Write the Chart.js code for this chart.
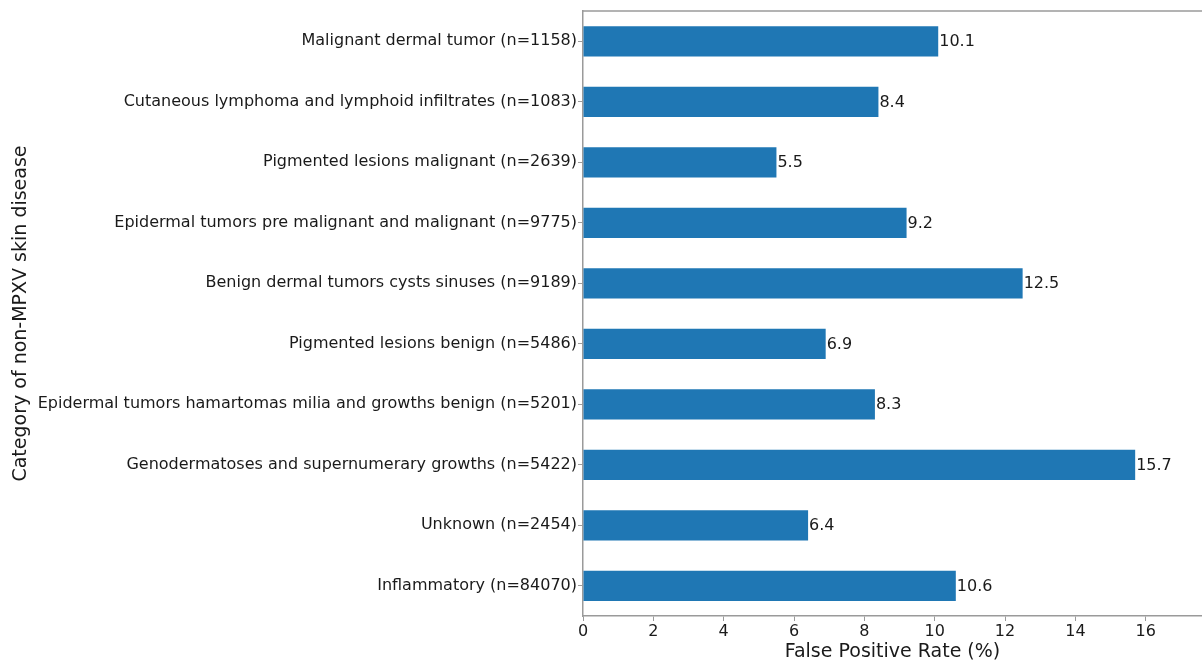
<!DOCTYPE html>
<html>
<head>
<meta charset="utf-8">
<script src="https://cdn.jsdelivr.net/npm/chart.js@4.4.1/dist/chart.umd.min.js"></script>
<style>
  html, body { margin: 0; padding: 0; background: #fff; }
  #wrap { width: 1202px; height: 664px; }
</style>
</head>
<body>
<div id="wrap"><canvas id="bar-chart"></canvas></div>
<script>
const categories = [
    'Malignant dermal tumor (n=1158)',
    'Cutaneous lymphoma and lymphoid infiltrates (n=1083)',
    'Pigmented lesions malignant (n=2639)',
    'Epidermal tumors pre malignant and malignant (n=9775)',
    'Benign dermal tumors cysts sinuses (n=9189)',
    'Pigmented lesions benign (n=5486)',
    'Epidermal tumors hamartomas milia and growths benign (n=5201)',
    'Genodermatoses and supernumerary growths (n=5422)',
    'Unknown (n=2454)',
    'Inflammatory (n=84070)'
]
const falsePositiveRate = [10.1, 8.4, 5.5, 9.2, 12.5, 6.9, 8.3, 15.7, 6.4, 10.6]
const xTicks = [0, 2, 4, 6, 8, 10, 12, 14, 16]

const axisGrey = '#9a9a9a'
const textColor = '#1a1a1a'
const fontFamily = '"DejaVu Sans", sans-serif'

// value labels at the end of each bar + top spine
const barLabels = {
    id: 'barLabels',
    afterDatasetsDraw(chart) {
        const ctx = chart.ctx
        const meta = chart.getDatasetMeta(0)
        ctx.save()
        ctx.font = '16px ' + fontFamily
        ctx.fillStyle = textColor
        ctx.textAlign = 'left'
        ctx.textBaseline = 'middle'
        meta.data.forEach((bar, i) => {
            ctx.fillText(falsePositiveRate[i].toFixed(1), bar.x + 1, bar.y + 1)
        })
        const a = chart.chartArea
        ctx.strokeStyle = axisGrey
        ctx.lineWidth = 1.5
        ctx.beginPath()
        ctx.moveTo(a.left, a.top)
        ctx.lineTo(a.right, a.top)
        ctx.stroke()
        ctx.restore()
    }
}

new Chart(document.getElementById('bar-chart').getContext('2d'), {
    type: 'bar',
    data: {
        labels: categories,
        datasets: [{
            data: falsePositiveRate,
            backgroundColor: '#1f77b4',
            borderWidth: 0,
            barPercentage: 0.5,
            categoryPercentage: 1.0
        }]
    },
    plugins: [barLabels],
    options: {
        indexAxis: 'y',
        responsive: true,
        maintainAspectRatio: false,
        animation: false,
        layout: { padding: { top: 11, right: 0, left: 0, bottom: 0 } },
        plugins: {
            legend: { display: false },
            tooltip: { enabled: false }
        },
        scales: {
            x: {
                min: 0,
                max: 17.6,
                afterBuildTicks: scale => { scale.ticks = xTicks.map(v => ({ value: v })) },
                afterFit: scale => { scale.height = 48 },
                grid: { display: true, drawOnChartArea: false, tickLength: 5, color: axisGrey, lineWidth: 1 },
                border: { color: axisGrey, width: 1.5 },
                ticks: { color: textColor, font: { family: fontFamily, size: 16 }, padding: 1, maxRotation: 0 },
                title: {
                    display: true,
                    text: 'False Positive Rate (%)',
                    color: textColor,
                    font: { family: fontFamily, size: 19 },
                    padding: { top: 0, bottom: 1 }
                }
            },
            y: {
                afterFit: scale => { scale.width = 583 },
                grid: { display: true, offset: false, drawOnChartArea: false, tickLength: 5, color: axisGrey, lineWidth: 1 },
                border: { color: axisGrey, width: 1.5 },
                ticks: { color: textColor, font: { family: fontFamily, size: 16 }, padding: 1, autoSkip: false },
                title: {
                    display: true,
                    text: 'Category of non-MPXV skin disease',
                    color: textColor,
                    font: { family: fontFamily, size: 19 },
                    padding: { top: 10, bottom: 0 }
                }
            }
        }
    }
})
</script>
</body>
</html>
